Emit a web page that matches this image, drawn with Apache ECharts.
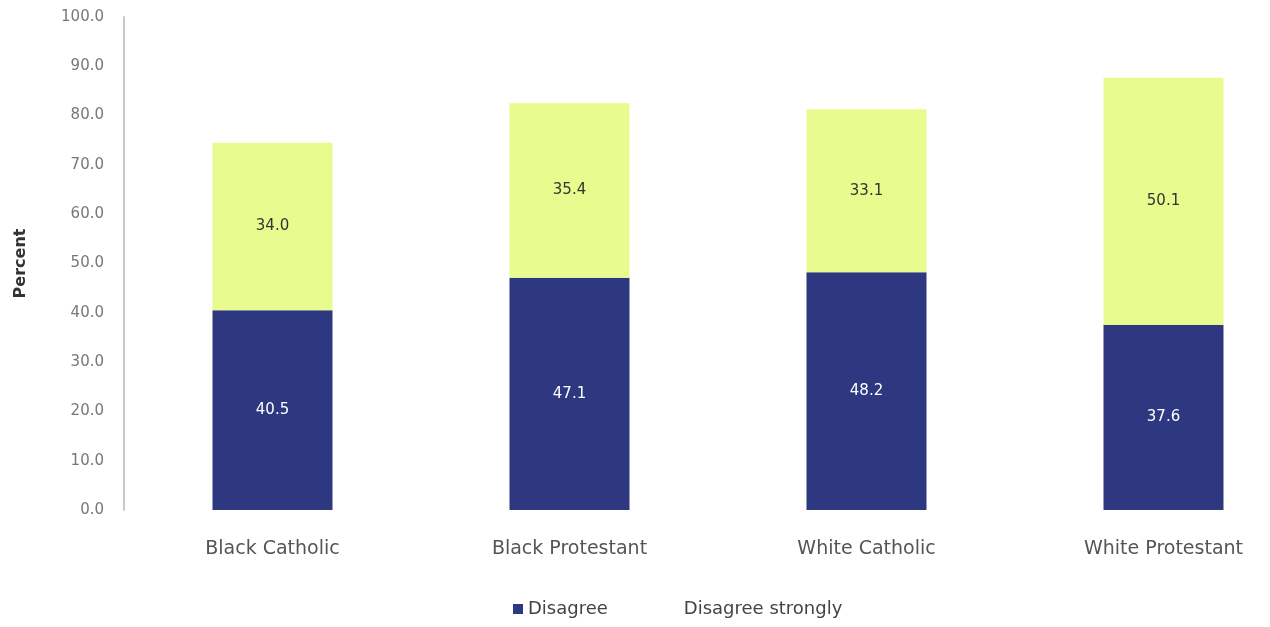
<!DOCTYPE html>
<html>
<head>
<meta charset="utf-8">
<script src="https://cdn.jsdelivr.net/npm/echarts@6/dist/echarts.min.js"></script>
<style>
  html, body { margin: 0; padding: 0; background: #fff; }
  #chart { width: 1270px; height: 627px; }
</style>
</head>
<body>
<div id="chart"></div>
<script>
var categories = ['Black Catholic', 'Black Protestant', 'White Catholic', 'White Protestant'];
var disagree = [40.5, 47.1, 48.2, 37.6];
var disagreeStrongly = [34.0, 35.4, 33.1, 50.1];
var seriesNames = ['Disagree', 'Disagree strongly'];

var myChart = echarts.init(document.getElementById('chart'));
var fontFamily = '"DejaVu Sans", sans-serif';

var option = {
  animation: false,
  textStyle: { fontFamily: fontFamily },
  // plot area runs past the right edge, like the cropped original
  grid: { left: 124, width: 1188, top: 17, bottom: 117, containLabel: false, outerBoundsMode: 'none' },
  legend: {
    bottom: 4,
    left: 508,
    itemWidth: 10,
    itemHeight: 10,
    itemGap: 61,
    icon: 'rect',
    textStyle: { fontSize: 18, color: '#444', fontFamily: fontFamily },
    data: [
      { name: seriesNames[0] },
      { name: seriesNames[1], itemStyle: { opacity: 0 } }
    ]
  },
  xAxis: {
    type: 'category',
    data: categories,
    axisLine: { show: false },
    axisTick: { show: false },
    axisLabel: { fontSize: 19, color: '#555', margin: 30 }
  },
  yAxis: {
    type: 'value',
    min: 0,
    max: 100,
    interval: 10,
    name: 'Percent',
    nameLocation: 'middle',
    nameGap: 95,
    nameRotate: 90,
    nameTextStyle: { fontSize: 16, fontWeight: 'bold', color: '#333' },
    axisLine: { show: true, lineStyle: { color: '#c8c8c8', width: 2 } },
    axisTick: { show: false },
    splitLine: { show: false },
    axisLabel: {
      fontSize: 15,
      color: '#777',
      margin: 20,
      formatter: function (v) { return v.toFixed(1); }
    }
  },
  series: [{
    name: seriesNames[0],
    type: 'bar',
    stack: 'total',
    barWidth: 120,
    data: disagree,
    itemStyle: { color: '#2e3880' },
    label: {
      show: true,
      position: 'inside',
      color: '#fff',
      fontSize: 15,
      formatter: function (p) { return p.value.toFixed(1); }
    }
  }, {
    name: seriesNames[1],
    type: 'bar',
    stack: 'total',
    barWidth: 120,
    data: disagreeStrongly,
    itemStyle: { color: '#e8fb8e' },
    label: {
      show: true,
      position: 'inside',
      color: '#333',
      fontSize: 15,
      formatter: function (p) { return p.value.toFixed(1); }
    }
  }]
};
myChart.setOption(option);
window.addEventListener('resize', function () {
  myChart.resize();
});
</script>
</body>
</html>
